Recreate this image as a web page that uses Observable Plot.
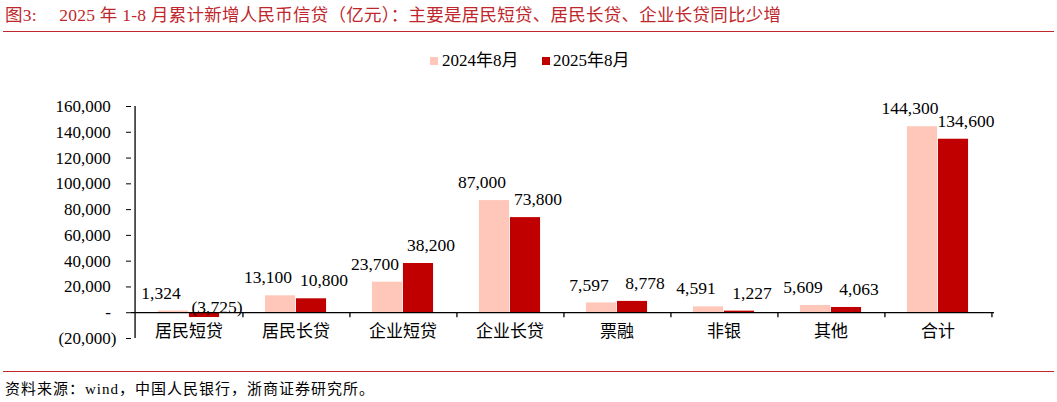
<!DOCTYPE html>
<html>
<head>
<meta charset="utf-8">
<script src="https://cdn.jsdelivr.net/npm/d3@7"></script>
<script src="https://cdn.jsdelivr.net/npm/@observablehq/plot@0.6"></script>
<style>
  html, body { margin: 0; padding: 0; background: #fff; }
  #wrap { position: relative; width: 1057px; height: 402px; overflow: hidden; font-family: "Liberation Serif", "Noto Sans CJK SC", serif; }
  #title { position: absolute; left: 5px; top: 4px; font-size: 17.5px; letter-spacing: 0.25px; color: #c0272d; white-space: nowrap; line-height: 22px; }
  .hline { position: absolute; left: 3px; width: 1051px; height: 0; border-top: 1.5px solid #c0272d; }
  #legend { position: absolute; top: 50px; left: 0; width: 1057px; height: 22px; font-size: 17px; color: #000; }
  .lg { position: absolute; top: 0; line-height: 22px; white-space: nowrap; }
  .sw { position: absolute; top: 7px; width: 8px; height: 8px; }
  #source { position: absolute; left: 5px; top: 379px; font-size: 15px; letter-spacing: 1px; color: #000; white-space: nowrap; line-height: 20px; }
  #chart { position: absolute; left: 0; top: 0; }
</style>
</head>
<body>
<div id="wrap">
  <div id="chart"></div>
  <div id="title"></div>
  <div class="hline" style="top:31px"></div>
  <div id="legend"></div>
  <div class="hline" style="top:371px"></div>
  <div id="source"></div>
</div>
<script>
const titleText = "图3:\u2003 2025 年 1-8 月累计新增人民币信贷（亿元）：主要是居民短贷、居民长贷、企业长贷同比少增";
const sourceText = "资料来源：wind，中国人民银行，浙商证券研究所。";
const seriesNames = ["2024年8月", "2025年8月"];
const seriesColors = ["#ffc7b9", "#c00000"];
const categories = ["居民短贷", "居民长贷", "企业短贷", "企业长贷", "票融", "非银", "其他", "合计"];
const values2024 = [1324, 13100, 23700, 87000, 7597, 4591, 5609, 144300];
const values2025 = [-3725, 10800, 38200, 73800, 8778, 1227, 4063, 134600];
const yTicks = [-20000, 0, 20000, 40000, 60000, 80000, 100000, 120000, 140000, 160000];

const fmtN = d3.format(",");
const fmt = v => v === 0 ? "-\u2004" : v < 0 ? "(" + fmtN(-v) + ")" : fmtN(v) + "\u2004";
const fmtLabel = v => v < 0 ? "(" + fmtN(-v) + ")" : fmtN(v);

const rows2024 = categories.map((c, i) => ({cat: c, value: values2024[i]}));
const rows2025 = categories.map((c, i) => ({cat: c, value: values2025[i]}));

const W = 1057, H = 402, ML = 131, MR = 63, MT = 106, MB = 64;
const step = (W - ML - MR) / categories.length;
const half = step / 2;
const barW = 31;
const font = "Liberation Serif, Noto Sans CJK SC, serif";

const chart = Plot.plot({
  width: W,
  height: H,
  marginLeft: ML,
  marginRight: MR,
  marginTop: MT,
  marginBottom: MB,
  style: {fontFamily: font, fontSize: "17px", color: "#000", background: "transparent"},
  x: {type: "band", domain: categories, padding: 0, axis: null},
  y: {domain: [-20000, 160000], ticks: yTicks, tickFormat: fmt, tickSize: 5, tickPadding: 10, label: null},
  marks: [
    Plot.barY(rows2024, {x: "cat", y: "value", fill: seriesColors[0], insetLeft: half - barW, insetRight: half}),
    Plot.barY(rows2025, {x: "cat", y: "value", fill: seriesColors[1], insetLeft: half, insetRight: half - barW}),
    Plot.ruleY([0], {stroke: "#000", strokeWidth: 1.3}),
    Plot.ruleX([categories[0]], {dx: -half, stroke: "#000", strokeWidth: 1.3}),
    Plot.ruleX(categories, {x: d => d, dx: half, y1: 0, y2: -3900, stroke: "#000", strokeWidth: 1.3}),
    Plot.text(rows2024, {x: "cat", y: "value", text: d => fmtLabel(d.value), dx: -28, dy: -18, fontSize: 17.5, fill: "#000"}),
    Plot.text(rows2025, {filter: d => d.value >= 0, x: "cat", y: "value", text: d => fmtLabel(d.value), dx: 28, dy: -18, fontSize: 17.5, fill: "#000"}),
    Plot.text(rows2025, {filter: d => d.value < 0, x: "cat", y: 0, text: d => fmtLabel(d.value), dx: 28, dy: -5, fontSize: 17.5, fill: "#000"}),
    Plot.text(categories, {x: d => d, frameAnchor: "bottom", dy: -2, text: d => d, fontSize: 17, fill: "#000"})
  ]
});
document.getElementById("chart").appendChild(chart);

document.getElementById("title").textContent = titleText;
document.getElementById("source").textContent = sourceText;

const legend = document.getElementById("legend");
const legendPos = [[430, 442], [542, 553]];
seriesNames.forEach((name, i) => {
  const sw = document.createElement("div");
  sw.className = "sw";
  sw.style.left = legendPos[i][0] + "px";
  sw.style.background = seriesColors[i];
  legend.appendChild(sw);
  const t = document.createElement("div");
  t.className = "lg";
  t.style.left = legendPos[i][1] + "px";
  t.textContent = name;
  legend.appendChild(t);
});
</script>
</body>
</html>
